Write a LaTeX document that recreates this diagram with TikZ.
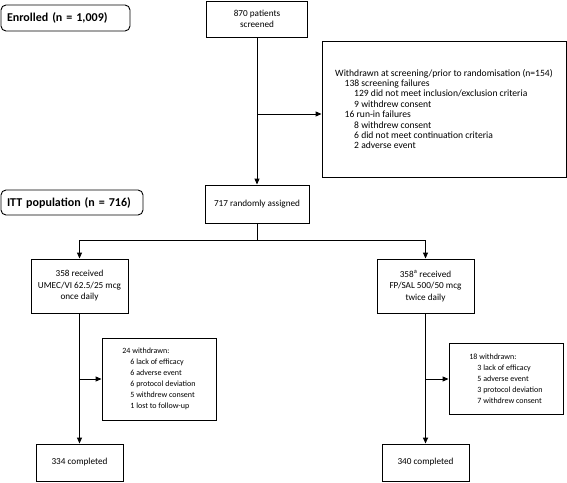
\documentclass[tikz,border=0pt]{standalone}
\usepackage{fontspec}
\setmainfont{Carlito}
\usetikzlibrary{arrows.meta}
\begin{document}
\begin{tikzpicture}[x=1pt,y=-1pt,
  box/.style={draw,line width=0.9pt,inner sep=2pt,align=center,font=\fontsize{9.2}{11.5}\selectfont},
  lbox/.style={box,align=left,font=\fontsize{8}{11}\selectfont},
  popbox/.style={draw,line width=0.9pt,rounded corners=5pt,align=left,inner xsep=6pt,font=\fontsize{12}{14}\selectfont\bfseries},
  conn/.style={line width=0.9pt},
  arr/.style={conn,-{Triangle[length=6pt,width=5pt]}}]
\useasboundingbox (0,0) rectangle (567,482);
\node[popbox,minimum width=129pt,minimum height=26pt,text width=117pt] (enr) at (65.5,18) {Enrolled (n = 1,009)};
\node[popbox,minimum width=142pt,minimum height=25pt,text width=130pt] (itt) at (72,202.5) {ITT population (n = 716)};
\node[box,minimum width=101pt,minimum height=36pt] (scr) at (257,19) {870 patients\\screened};
\node[lbox,font=\fontsize{9.6}{10.4}\selectfont,minimum width=244pt,minimum height=136pt] (wd) at (444,109) {Withdrawn at screening/prior to randomisation (n=154)\\
\hspace*{9.5pt}138 screening failures\\
\hspace*{19pt}129 did not meet inclusion/exclusion criteria\\
\hspace*{19pt}9 withdrew consent\\
\hspace*{9.5pt}16 run-in failures\\
\hspace*{19pt}8 withdrew consent\\
\hspace*{19pt}6 did not meet continuation criteria\\
\hspace*{19pt}2 adverse event};
\node[box,minimum width=104pt,minimum height=38pt] (rand) at (257,204) {717 randomly assigned};
\node[box,minimum width=97pt,minimum height=54pt] (umec) at (79.5,286) {358 received\\UMEC/VI 62.5/25 mcg\\once daily};
\node[box,minimum width=97pt,minimum height=54pt] (fp) at (425.5,286) {358\textsuperscript{a} received\\FP/SAL 500/50 mcg\\twice daily};
\node[lbox,minimum width=114pt,minimum height=82pt] (wl) at (159,379) {24 withdrawn:\\
\hspace*{8pt}6 lack of efficacy\\
\hspace*{8pt}6 adverse event\\
\hspace*{8pt}6 protocol deviation\\
\hspace*{8pt}5 withdrew consent\\
\hspace*{8pt}1 lost to follow-up};
\node[lbox,minimum width=114pt,minimum height=71pt] (wr) at (506,379) {18 withdrawn:\\
\hspace*{8pt}3 lack of efficacy\\
\hspace*{8pt}5 adverse event\\
\hspace*{8pt}3 protocol deviation\\
\hspace*{8pt}7 withdrew consent};
\node[box,minimum width=87pt,minimum height=37pt] (cl) at (79.5,462.5) {334 completed};
\node[box,minimum width=87pt,minimum height=37pt] (cr) at (425.5,462.5) {340 completed};
\coordinate (j1) at (257,114);
\coordinate (split) at (257,240);
\coordinate (jl) at (79.5,379);
\coordinate (jr) at (425.5,379);
\draw[arr] (scr.south) -- (rand.north);
\draw[arr] (j1) -- (j1 -| wd.west);
\draw[conn] (rand.south) -- (split);
\draw[arr] (split) -| (umec.north);
\draw[arr] (split) -| (fp.north);
\draw[arr] (umec.south) -- (cl.north);
\draw[arr] (jl) -- (wl.west);
\draw[arr,line width=1.6pt] (fp.south) -- (cr.north);
\draw[arr] (jr) -- (wr.west);
\end{tikzpicture}
\end{document}
